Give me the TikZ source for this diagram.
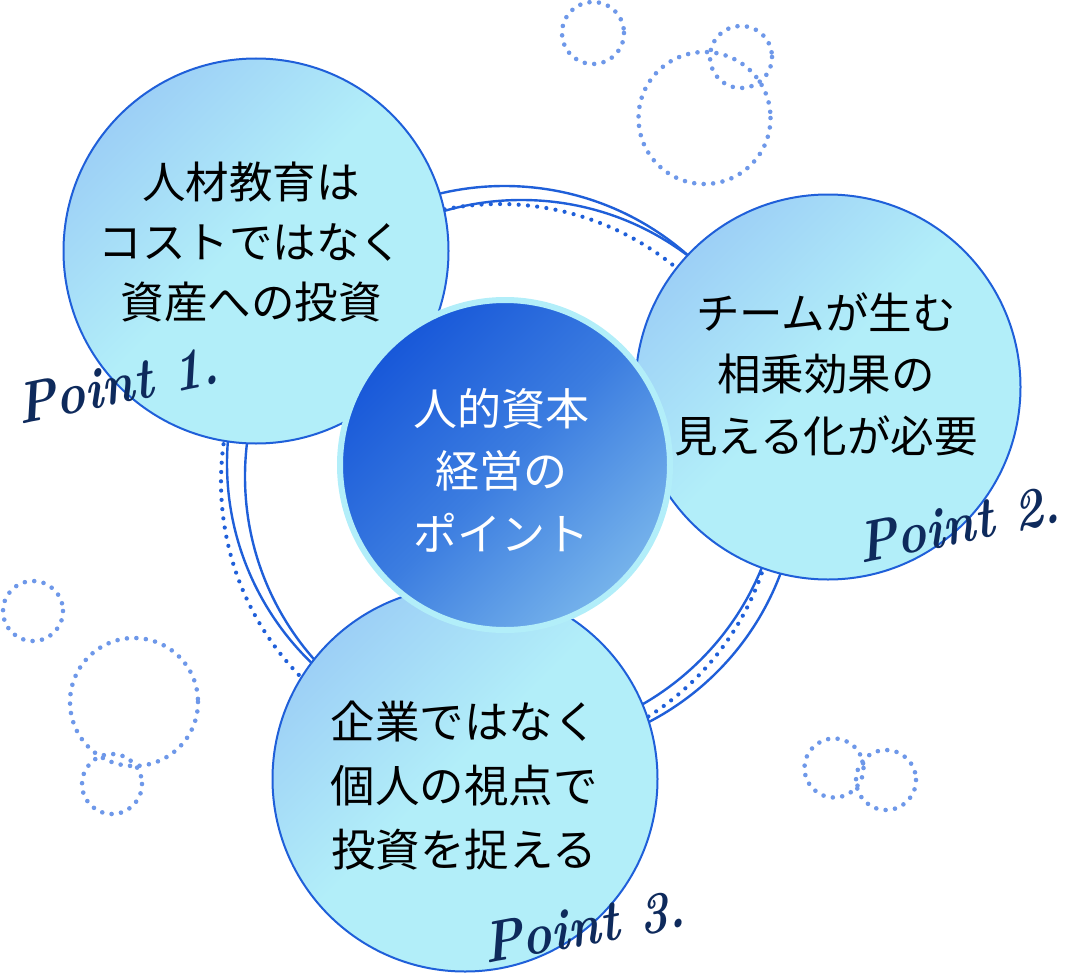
\documentclass[tikz,border=0pt]{standalone}
\usepackage{fontspec}
\newfontfamily\jpfont{Noto Sans CJK JP}
\newcommand\pointfont{\normalfont\bfseries\itshape}
\definecolor{ringblue}{HTML}{1F5FD9}
\definecolor{decoblue}{HTML}{6E98E9}
\definecolor{cyanfill}{HTML}{B2EEF9}
\definecolor{bluefill}{HTML}{96C6F5}
\definecolor{ctrlight}{HTML}{86C2EE}
\definecolor{ctrmid}{HTML}{3C7DE0}
\definecolor{ctrdark}{HTML}{1353D8}
\definecolor{navy}{HTML}{0E2A5C}
\pgfdeclareverticalshading{ptshade}{100bp}{color(0bp)=(cyanfill); color(52bp)=(cyanfill); color(82bp)=(bluefill); color(100bp)=(bluefill)}
\pgfdeclareverticalshading{ctrshade}{100bp}{color(0bp)=(ctrlight); color(18bp)=(ctrlight); color(50bp)=(ctrmid); color(78bp)=(ctrdark); color(100bp)=(ctrdark)}
\tikzset{
  ringline/.style={draw=ringblue, line width=2.4pt},
  ringdots/.style={draw=ringblue, line width=4.2pt, line cap=round, dash pattern=on 0pt off 9.3pt},
  decodots/.style={draw=decoblue, line width=4.6pt, line cap=round, dash pattern=on 0pt off 9.5pt},
  ptcircle/.style={circle, draw=ringblue, line width=2pt, minimum size=385pt, inner sep=0pt,
    shading=ptshade, shading angle=45},
  ctrcircle/.style={circle, draw=cyanfill, line width=6pt, minimum size=330pt, inner sep=0pt,
    shading=ctrshade, shading angle=45},
  pttext/.style={align=center, text=black, inner sep=0pt, font=\jpfont\fontsize{44}{61}\selectfont},
  ctrtext/.style={align=center, text=white, inner sep=0pt, font=\jpfont\fontsize{44}{62.5}\selectfont},
  pointlabel/.style={text=navy, font=\pointfont\fontsize{58}{60}\selectfont, inner sep=0pt, xscale=0.85}
}
\begin{document}
\begin{tikzpicture}[x=1pt,y=-1pt]
\useasboundingbox (0,0) rectangle (1065,974);
% decorative dotted circles
\draw[decodots] (593,33) circle[radius=31];
\draw[decodots] (704.5,118) circle[radius=66];
\draw[decodots] (741,57) circle[radius=31];
\draw[decodots] (33,611) circle[radius=30];
\draw[decodots] (134,702) circle[radius=64];
\draw[decodots] (112,784) circle[radius=30];
\draw[decodots] (834,768) circle[radius=29.5];
\draw[decodots] (886,780) circle[radius=30];
% rings
\draw[ringline] (504.5,463.5) circle[radius=277.5];
\draw[ringline] (521.5,476.5) circle[radius=276.5];
\draw[ringdots] (499,482) circle[radius=278];
% point circles
\node[ptcircle] (p1) at (256,251) {};
\node[ptcircle] (p2) at (828,387) {};
\node[ptcircle] (p3) at (465,779) {};
\node[pttext, font=\jpfont\fontsize{43.5}{60}\selectfont] (t1) at (251,242) {人材教育は\\コストではなく\\資産への投資};
\node[pttext, font=\jpfont\fontsize{43.5}{61.5}\selectfont] (t2) at (826,374) {チームが生む\\相乗効果の\\見える化が必要};
\node[pttext, font=\jpfont\fontsize{44.5}{64}\selectfont] (t3) at (464,786) {企業ではなく\\個人の視点で\\投資を捉える};
% center
\node[ctrcircle] (c) at (505,465) {};
\node[ctrtext] (tc) at (501,470) {人的資本\\経営の\\ポイント};
% labels
\node[pointlabel, rotate=10] (l1) at (118,384) {Point 1.};
\node[pointlabel, rotate=10] (l2) at (959,524) {Point 2.};
\node[pointlabel, rotate=9] (l3) at (584,926) {Point 3.};
\end{tikzpicture}
\end{document}
